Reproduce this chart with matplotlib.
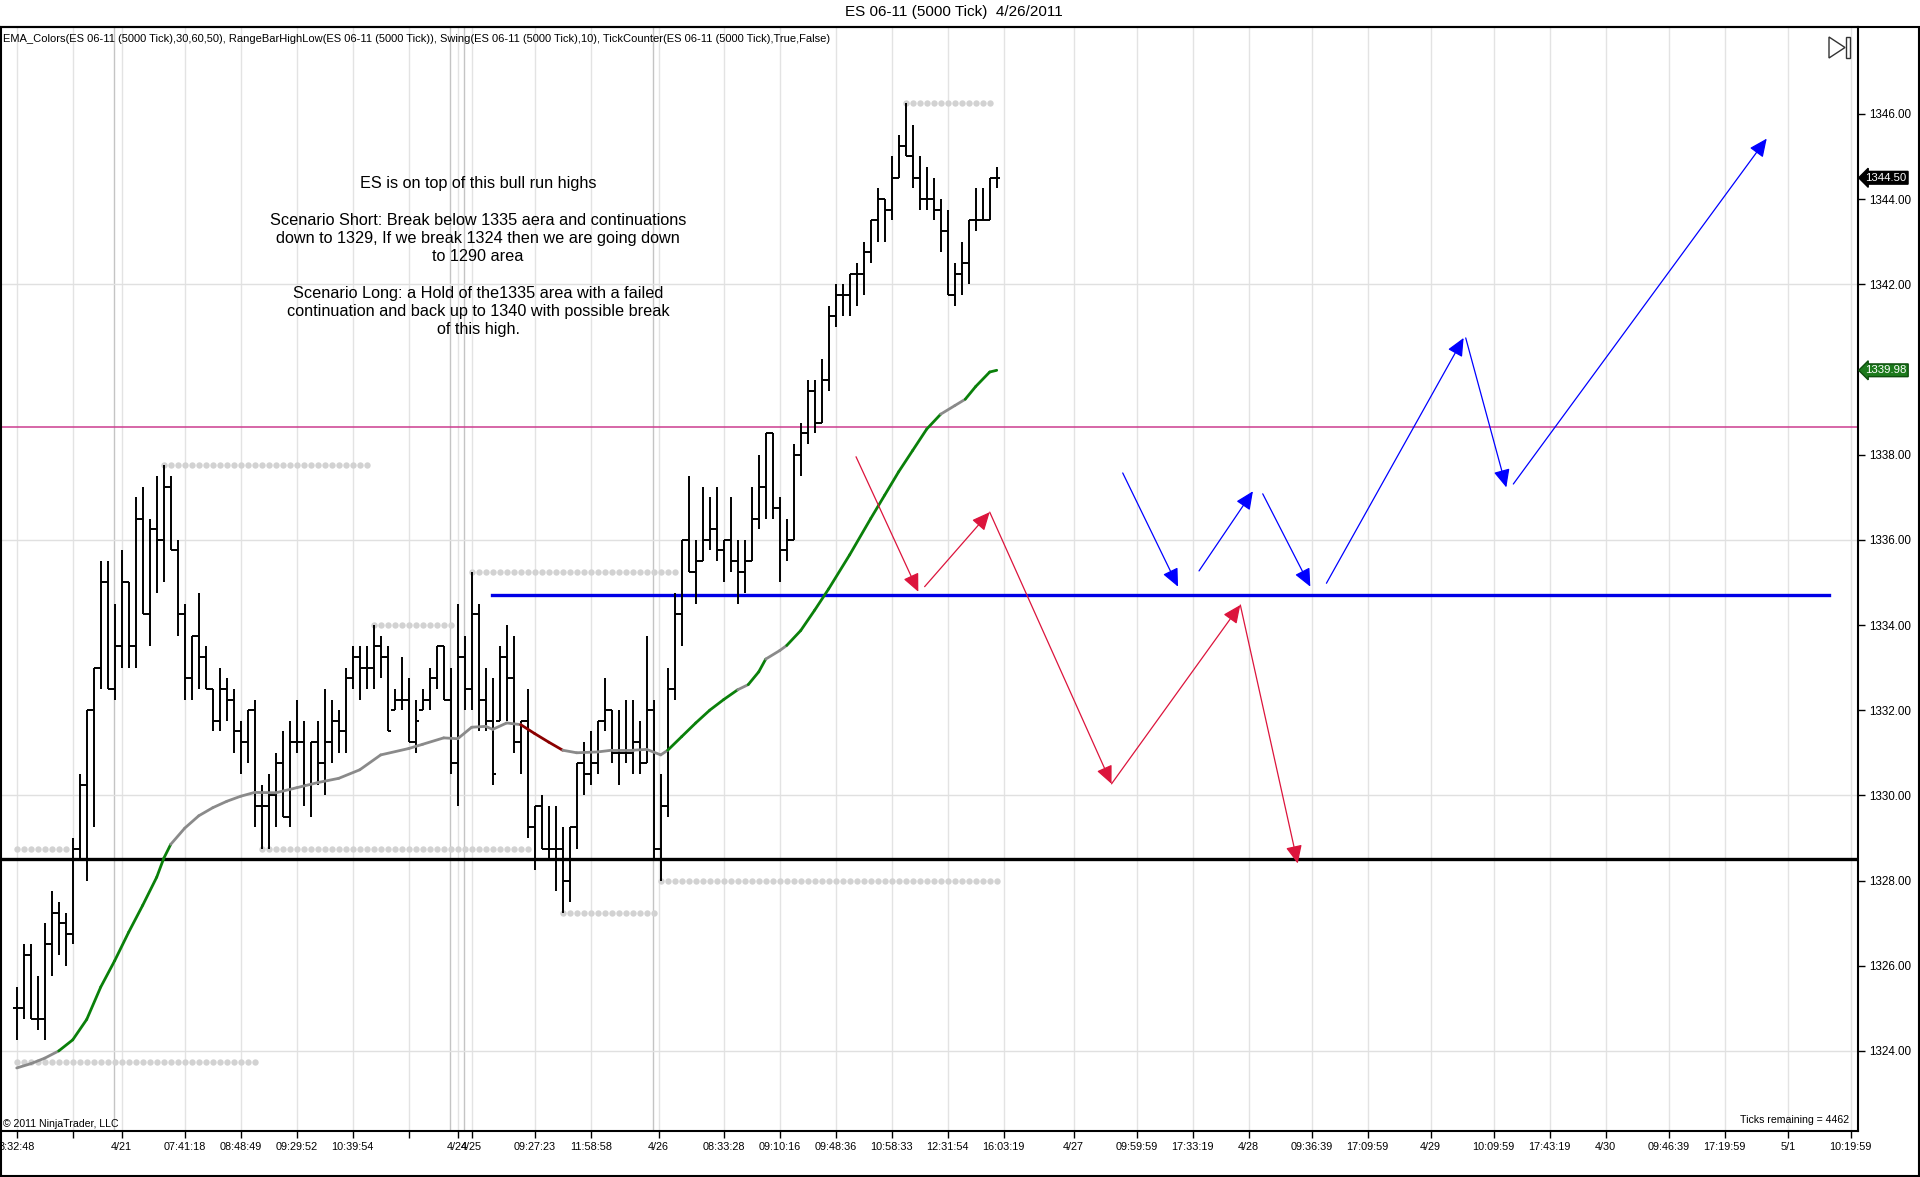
import numpy as np
import matplotlib
matplotlib.use('Agg')
import matplotlib.pyplot as plt
from matplotlib.patches import FancyArrowPatch, Polygon, Rectangle
import matplotlib.transforms as mtransforms

plt.rcParams['font.family'] = ['Liberation Sans', 'DejaVu Sans']

# ES 06-11 5000 tick bars (open, high, low, close)
opens = [1325.0, 1325.0, 1326.25, 1324.75, 1324.75, 1326.5, 1327.25, 1327.0, 1326.75, 1328.75,
         1330.25, 1332.0, 1333.0, 1335.0, 1332.5, 1333.5, 1335.0, 1333.5, 1336.5, 1334.25,
         1336.25, 1336.0, 1337.25, 1335.75, 1334.25, 1332.75, 1333.75, 1333.25, 1332.5, 1331.75,
         1332.5, 1332.25, 1331.5, 1331.25, 1332.0, 1329.75, 1329.75, 1330.0, 1330.75, 1329.5,
         1331.25, 1331.25, 1330.25, 1331.25, 1330.75, 1331.25, 1331.75, 1331.5, 1332.75, 1333.25,
         1333.0, 1333.0, 1333.5, 1333.25, 1332.0, 1332.25, 1332.25, 1331.25, 1332.0, 1332.25,
         1332.75, 1333.5, 1332.25, 1330.75, 1333.25, 1332.5, 1334.25, 1332.25, 1331.75, 1331.75,
         1333.25, 1332.75, 1331.25, 1331.75, 1329.25, 1329.75, 1328.75, 1328.75, 1328.75, 1328.0,
         1329.25, 1330.75, 1330.5, 1330.75, 1331.75, 1332.0, 1331.0, 1331.0, 1331.0, 1331.25,
         1330.75, 1332.0, 1328.75, 1329.75, 1332.5, 1334.25, 1336.0, 1335.25, 1335.5, 1336.0,
         1336.25, 1335.75, 1336.0, 1335.5, 1335.25, 1335.5, 1336.5, 1337.25, 1338.5, 1336.75,
         1335.75, 1336.0, 1338.0, 1338.5, 1339.5, 1338.75, 1339.75, 1341.25, 1341.75, 1341.75,
         1342.25, 1342.25, 1342.75, 1343.5, 1344.0, 1343.75, 1344.5, 1345.25, 1345.0, 1344.5,
         1344.0, 1344.0, 1343.75, 1343.25, 1341.75, 1342.25, 1342.5, 1343.5, 1343.5, 1343.5,
         1344.5]
highs = [1325.5, 1326.5, 1326.5, 1325.75, 1327.0, 1327.75, 1327.5, 1327.25, 1329.0, 1330.5,
         1332.0, 1333.0, 1335.5, 1335.5, 1334.5, 1335.75, 1335.0, 1337.0, 1337.25, 1336.5,
         1337.5, 1337.75, 1337.5, 1336.0, 1334.5, 1333.75, 1334.75, 1333.5, 1332.5, 1333.0,
         1332.75, 1332.5, 1331.75, 1332.0, 1332.25, 1330.25, 1330.5, 1331.0, 1331.5, 1331.75,
         1332.25, 1331.75, 1331.25, 1331.75, 1332.5, 1332.25, 1332.0, 1333.0, 1333.5, 1333.5,
         1333.5, 1334.0, 1333.75, 1333.5, 1332.5, 1333.25, 1332.75, 1332.25, 1332.5, 1333.0,
         1333.5, 1333.5, 1333.0, 1334.5, 1333.75, 1335.25, 1334.5, 1333.0, 1332.75, 1333.5,
         1334.0, 1333.75, 1331.75, 1332.5, 1329.75, 1330.0, 1329.75, 1329.75, 1329.25, 1329.25,
         1330.75, 1331.25, 1331.5, 1331.75, 1332.75, 1332.0, 1332.0, 1332.25, 1332.25, 1331.75,
         1333.75, 1332.25, 1330.5, 1333.0, 1334.75, 1336.0, 1337.5, 1336.0, 1337.25, 1337.0,
         1337.25, 1336.0, 1337.0, 1336.0, 1336.0, 1337.25, 1338.0, 1338.5, 1338.5, 1337.0,
         1336.5, 1338.25, 1338.75, 1339.75, 1339.75, 1340.25, 1341.5, 1342.0, 1342.0, 1342.25,
         1342.5, 1343.0, 1343.5, 1344.25, 1344.0, 1345.0, 1345.5, 1346.25, 1345.75, 1345.0,
         1344.75, 1344.5, 1344.0, 1343.75, 1342.5, 1343.0, 1343.5, 1344.25, 1344.25, 1344.5,
         1344.75]
lows = [1324.25, 1324.75, 1324.75, 1324.5, 1324.25, 1325.75, 1326.25, 1326.0, 1326.5, 1328.5,
        1328.0, 1329.25, 1332.5, 1332.5, 1332.25, 1333.0, 1333.0, 1333.0, 1334.25, 1333.5,
        1334.75, 1335.0, 1335.75, 1333.75, 1332.25, 1332.25, 1332.5, 1332.5, 1331.5, 1331.5,
        1331.75, 1331.0, 1330.5, 1330.75, 1329.25, 1328.75, 1328.75, 1329.25, 1329.5, 1329.25,
        1331.0, 1329.75, 1329.5, 1330.25, 1330.0, 1330.75, 1331.0, 1331.0, 1332.5, 1332.25,
        1332.5, 1332.5, 1332.75, 1331.5, 1332.0, 1332.0, 1331.25, 1331.0, 1332.0, 1332.0,
        1332.5, 1332.25, 1330.5, 1329.75, 1332.0, 1332.0, 1331.5, 1331.5, 1330.25, 1331.75,
        1331.75, 1331.0, 1330.5, 1329.0, 1328.25, 1328.75, 1328.5, 1327.75, 1327.25, 1327.5,
        1328.75, 1330.0, 1330.25, 1330.5, 1331.5, 1330.75, 1330.25, 1330.75, 1330.5, 1330.5,
        1330.75, 1328.5, 1328.0, 1329.5, 1332.25, 1333.5, 1335.25, 1334.5, 1335.5, 1335.75,
        1335.5, 1335.0, 1335.25, 1334.5, 1334.75, 1335.5, 1336.25, 1336.5, 1336.5, 1335.0,
        1335.5, 1336.0, 1337.5, 1338.25, 1338.5, 1338.75, 1339.5, 1341.0, 1341.25, 1341.25,
        1341.5, 1341.75, 1342.5, 1343.0, 1343.0, 1343.5, 1344.5, 1345.0, 1344.25, 1343.75,
        1343.75, 1343.5, 1342.75, 1341.75, 1341.5, 1341.75, 1342.0, 1343.25, 1343.5, 1343.5,
        1344.25]
closes = [1325.0, 1326.25, 1324.75, 1324.75, 1326.5, 1327.25, 1327.0, 1326.75, 1328.75, 1330.25,
          1332.0, 1333.0, 1335.0, 1332.5, 1333.5, 1335.0, 1333.5, 1336.5, 1334.25, 1336.25,
          1336.0, 1337.25, 1335.75, 1334.25, 1332.75, 1333.75, 1333.25, 1332.5, 1331.75, 1332.5,
          1332.25, 1331.5, 1331.25, 1332.0, 1329.75, 1329.75, 1330.0, 1330.75, 1329.5, 1331.25,
          1331.25, 1330.25, 1331.25, 1330.75, 1331.25, 1331.75, 1331.5, 1332.75, 1333.25, 1333.0,
          1333.0, 1333.5, 1333.25, 1331.5, 1332.25, 1332.25, 1331.25, 1331.75, 1332.25, 1332.75,
          1333.5, 1332.25, 1330.75, 1333.25, 1332.5, 1334.25, 1332.25, 1331.75, 1330.5, 1333.25,
          1332.75, 1331.25, 1331.75, 1329.25, 1329.75, 1328.75, 1328.75, 1328.75, 1328.0, 1329.25,
          1330.75, 1330.5, 1330.75, 1331.75, 1332.0, 1331.0, 1331.0, 1331.0, 1331.25, 1330.75,
          1332.0, 1328.75, 1329.75, 1332.5, 1334.25, 1336.0, 1335.25, 1335.5, 1336.0, 1336.25,
          1335.75, 1336.0, 1335.5, 1335.25, 1335.5, 1336.5, 1337.25, 1338.5, 1336.75, 1335.75,
          1336.0, 1338.0, 1338.5, 1339.5, 1338.75, 1339.75, 1341.25, 1341.75, 1341.75, 1342.25,
          1342.25, 1342.75, 1343.5, 1344.0, 1343.75, 1344.5, 1345.25, 1345.0, 1344.5, 1344.0,
          1344.0, 1343.75, 1343.25, 1341.75, 1342.25, 1342.5, 1343.5, 1343.5, 1343.5, 1344.5,
          1344.5]

# EMA_Colors line: bar position, value, trend (n = flat/gray, g = up/green, r = down/red)
ema_x = [0, 2, 4, 6, 8, 10, 12, 14, 16, 18, 20, 21, 22, 24, 26, 28, 30, 32, 34, 37,
         40, 43, 46, 49, 52, 56, 58, 61, 63, 65, 67, 68, 70, 72, 74, 76, 78, 80, 83, 85,
         88, 90, 92, 93, 95, 97, 99, 101, 103, 104.5, 106, 107, 109, 110, 112, 114, 116, 119, 122,
         124, 126, 128, 130, 132, 134, 135.5, 137, 139, 140]
ema_y = [1323.6, 1323.7, 1323.83, 1324.0, 1324.26, 1324.74, 1325.5, 1326.12, 1326.79, 1327.42,
         1328.08, 1328.52, 1328.85, 1329.23, 1329.52, 1329.71, 1329.86, 1329.98, 1330.07, 1330.06,
         1330.18, 1330.3, 1330.4, 1330.6, 1330.95, 1331.1, 1331.2, 1331.35, 1331.33, 1331.6,
         1331.62, 1331.55, 1331.7, 1331.66, 1331.45, 1331.25, 1331.06, 1331.0, 1331.02, 1331.06,
         1331.06, 1331.08, 1330.95, 1331.06, 1331.38, 1331.7, 1332.0, 1332.25, 1332.48, 1332.6,
         1332.9, 1333.2, 1333.4, 1333.52, 1333.87, 1334.35, 1334.85, 1335.65, 1336.5,
         1337.05, 1337.6, 1338.1, 1338.6, 1338.95, 1339.15, 1339.3, 1339.6, 1339.94, 1339.98]
ema_trend = ['n', 'n', 'n', 'n', 'g', 'g', 'g', 'g', 'g', 'g', 'g', 'g', 'g', 'n', 'n', 'n', 'n', 'n', 'n', 'n',
             'n', 'n', 'n', 'n', 'n', 'n', 'n', 'n', 'n', 'n', 'n', 'n', 'n', 'n', 'r', 'r', 'r', 'n', 'n', 'n',
             'n', 'n', 'n', 'n', 'g', 'g', 'g', 'g', 'g', 'n', 'g', 'g', 'n', 'n', 'g', 'g', 'g', 'g', 'g',
             'g', 'g', 'g', 'g', 'g', 'n', 'n', 'g', 'g', 'g']

# Swing indicator dotted levels: price, first bar, last bar
swing_level = [1337.75, 1334.0, 1335.25, 1346.25, 1323.75, 1328.75, 1328.75, 1327.25, 1328.0]
swing_first = [21, 51, 65, 127, 0, 0, 35, 78, 92]
swing_last = [50, 62, 94, 139, 34, 7, 73, 91, 140]

# hand drawn lines and arrows
magenta_level = 1338.64
black_level = 1328.5
blue_level = 1334.7
blue_span = (67.9, 258.9)
red_arrows = [((119.9, 1337.95), (128.8, 1334.78)),
              ((129.7, 1334.9), (139.0, 1336.65)),
              ((139.0, 1336.65), (156.4, 1330.27)),
              ((156.4, 1330.27), (174.8, 1334.47)),
              ((174.8, 1334.47), (183.0, 1328.4))]
blue_arrows = [((158.0, 1337.57), (165.9, 1334.9)),
               ((168.9, 1335.27), (176.6, 1337.14)),
               ((178.0, 1337.08), (184.8, 1334.9)),
               ((187.1, 1334.98), (206.7, 1340.74)),
               ((207.0, 1340.74), (212.8, 1337.23)),
               ((213.8, 1337.31), (250.0, 1345.42))]

# x axis ticks (bar slots) and labels
xtick_pos = [0, 8, 15, 24, 32, 40, 48, 56, 63, 65, 74, 82, 91.7, 101, 109, 117, 125, 133,
             141, 151, 160, 168, 176, 185, 193, 202, 211, 219, 227, 236, 244, 253, 262]
xtick_lab = ['3:32:48', '', '4/21', '07:41:18', '08:48:49', '09:29:52', '10:39:54', '', '4/24', '4/25',
             '09:27:23', '11:58:58', '4/26', '08:33:28', '09:10:16', '09:48:36', '10:58:33', '12:31:54',
             '16:03:19', '4/27', '09:59:59', '17:33:19', '4/28', '09:36:39', '17:09:59', '4/29',
             '10:09:59', '17:43:19', '4/30', '09:46:39', '17:19:59', '5/1', '10:19:59']
session_breaks = [13.9, 61.9, 63.9, 90.9]
# 1340.00 is hidden behind the EMA price marker
price_ticks = [1324, 1326, 1328, 1330, 1332, 1334, 1336, 1338, 1342, 1344, 1346]
price_grid = [1324, 1330, 1336, 1342]

note = ("ES is on top of this bull run highs\n\n"
        "Scenario Short: Break below 1335 aera and continuations\n"
        "down to 1329, If we break 1324 then we are going down\n"
        "to 1290 area\n\n"
        "Scenario Long: a Hold of the1335 area with a failed\n"
        "continuation and back up to 1340 with possible break\n"
        "of this high.")
indicators = ("EMA_Colors(ES 06-11 (5000 Tick),30,60,50), RangeBarHighLow(ES 06-11 (5000 Tick)), "
              "Swing(ES 06-11 (5000 Tick),10), TickCounter(ES 06-11 (5000 Tick),True,False)")

W, H = 1920, 1177
fig = plt.figure(figsize=(W / 100, H / 100), dpi=100)
ax = fig.add_axes([0, 1 - 1131 / H, 1858 / W, (1131 - 27) / H])
ax.set_xlim(-2.39, 263.04)
ax.set_ylim(1322.12, 1348.04)

# grid
for xp in xtick_pos:
    ax.axvline(xp, color='#e3e3e3', lw=1, zorder=0)
for xp in session_breaks:
    ax.axvline(xp, color='#c4c4c4', lw=1, zorder=0)
for yp in price_grid:
    ax.axhline(yp, color='#e0e0e0', lw=1, zorder=0)

# swing dots
for lev, a, b in zip(swing_level, swing_first, swing_last):
    xs = np.arange(a, b + 1)
    ax.plot(xs, np.full(len(xs), lev), 'o', color='#d2d2d2', ms=4.6, mec='none', zorder=1)

# horizontal levels
ax.axhline(magenta_level, color='#cc3d8f', lw=1.1, zorder=2)
ax.axhline(black_level, color='black', lw=2.4, zorder=2)
ax.plot(blue_span, [blue_level, blue_level], color='#0000e6', lw=2.4, zorder=2)

# OHLC bars
x = np.arange(len(closes))
ax.vlines(x, lows, highs, color='black', lw=1.4, zorder=3)
ax.hlines(opens, x - 0.5, x, color='black', lw=1.4, zorder=3)
ax.hlines(closes, x, x + 0.5, color='black', lw=1.4, zorder=3)

# EMA with trend colours
trend_col = {'n': '#8a8a8a', 'g': '#0a800a', 'r': '#8b0000'}
for i in range(1, len(ema_x)):
    ax.plot(ema_x[i - 1:i + 1], ema_y[i - 1:i + 1], color=trend_col[ema_trend[i]],
            lw=2.0, solid_capstyle='round', zorder=4)

# arrows
for arrows, col in ((red_arrows, '#dc143c'), (blue_arrows, '#0000ff')):
    for (x0, y0), (x1, y1) in arrows:
        ax.add_patch(FancyArrowPatch((x0, y0), (x1, y1), arrowstyle='-|>,head_length=0.55,head_width=0.25',
                                     mutation_scale=20, color=col, lw=0.9, shrinkA=0, shrinkB=0, zorder=5))

ax.text(65.9, 1342.65, note, ha='center', va='center', multialignment='center',
        fontsize=11.7, linespacing=1.27, zorder=6)

# axes styling
ax.yaxis.tick_right()
ax.set_yticks(price_ticks)
ax.set_yticklabels([f'{p:.2f}' for p in price_ticks], fontsize=8.4)
ax.set_xticks(xtick_pos)
ax.set_xticklabels(xtick_lab, fontsize=7.8)
ax.tick_params(axis='both', length=5, width=1, color='black', pad=3)
for sp in ax.spines.values():
    sp.set_linewidth(1.5)
    sp.set_color('black')

# price markers on the right axis
trans = mtransforms.blended_transform_factory(ax.transAxes, ax.transData)
ax.text(1.004, closes[-1], f'{closes[-1]:.2f}', transform=trans, ha='left', va='center',
        fontsize=8.2, color='white', clip_on=False,
        bbox=dict(boxstyle='larrow,pad=0.12', fc='black', ec='black'))
ax.text(1.004, ema_y[-1], f'{ema_y[-1]:.2f}', transform=trans, ha='left', va='center',
        fontsize=8.2, color='white', clip_on=False,
        bbox=dict(boxstyle='larrow,pad=0.12', fc='#1c7a1c', ec='#0d4d0d'))

# figure texts and frame
fig.text(0.497, 1 - 12 / H, 'ES 06-11 (5000 Tick)  4/26/2011', ha='center', va='center', fontsize=11)
fig.text(3 / W, 1 - 39 / H, indicators, ha='left', va='center', fontsize=8.0)
fig.text(3 / W, 1 - 1124 / H, '\u00a9 2011 NinjaTrader, LLC', ha='left', va='center', fontsize=7.6)
fig.text(1849 / W, 1 - 1120 / H, 'Ticks remaining = 4462', ha='right', va='center', fontsize=7.6)
fig.add_artist(Rectangle((0.0005, 0.0005), 0.999, 1 - 27 / H - 0.0005, transform=fig.transFigure,
                         fill=False, ec='black', lw=1.5))
fig.add_artist(Polygon([(1829 / W, 1 - 37 / H), (1829 / W, 1 - 58 / H), (1845 / W, 1 - 47.5 / H)],
                       closed=True, fill=False, ec='#333333', lw=1, transform=fig.transFigure))
fig.add_artist(Rectangle((1846 / W, 1 - 58 / H), 4 / W, 21 / H, fill=False, ec='#333333', lw=1,
                         transform=fig.transFigure))

fig.savefig('out.png', dpi=100, facecolor='white')
